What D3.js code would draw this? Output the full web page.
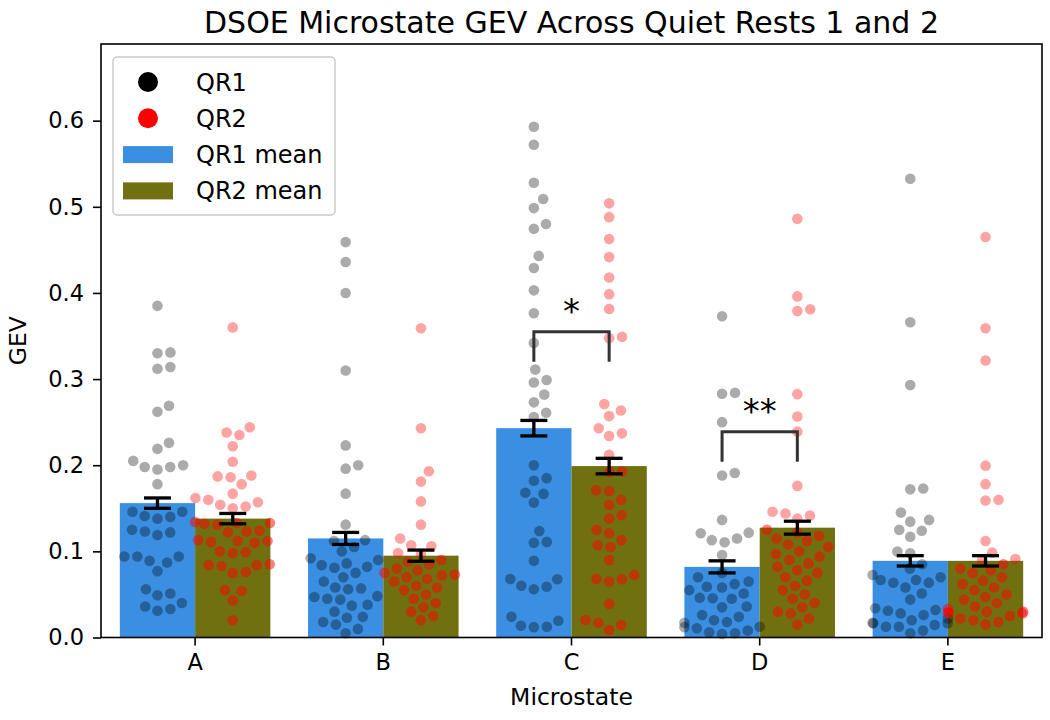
<!DOCTYPE html>
<html><head><meta charset="utf-8">
<script src="https://cdn.jsdelivr.net/npm/d3@7"></script>
<style>body{margin:0;background:#fff} svg{display:block;font-family:"DejaVu Sans",sans-serif}</style>
</head><body><svg id="chart" width="1050" height="720"></svg>
<script>
const categories = ["A","B","C","D","E"];
const groups = ["QR1","QR2"];
const yTicks = [0,0.1,0.2,0.3,0.4,0.5,0.6];
const qr1Means = [0.156, 0.115, 0.243, 0.082, 0.089];
const qr2Means = [0.138, 0.095, 0.199, 0.1275, 0.089];
const qr1Err = [0.006, 0.007, 0.009, 0.007, 0.006];
const qr2Err = [0.006, 0.0065, 0.009, 0.0075, 0.006];
const sigCats = ["C","D"];
const sigTops = [0.355, 0.239];
const sigLegs = [0.035, 0.035];
const sigLabels = ["*","**"];

const qr1_A = [0.385,0.331,0.330,0.314,0.312,0.269,0.262,0.226,0.219,0.205,0.198,0.195,0.198,0.200,0.178,0.146,0.140,0.138,0.141,0.146,0.122,0.119,0.123,0.125,0.094,0.087,0.077,0.089,0.094,0.094,0.051,0.049,0.056,0.040,0.033,0.031,0.036];
const qr2_A = [0.360,0.244,0.238,0.235,0.222,0.204,0.187,0.186,0.188,0.178,0.167,0.162,0.160,0.157,0.154,0.152,0.150,0.134,0.133,0.132,0.131,0.133,0.124,0.123,0.122,0.113,0.112,0.111,0.112,0.110,0.100,0.099,0.098,0.085,0.084,0.083,0.084,0.076,0.075,0.055,0.054,0.043,0.020];
const qr1_B = [0.459,0.436,0.400,0.310,0.223,0.200,0.196,0.167,0.131,0.113,0.112,0.105,0.100,0.090,0.086,0.092,0.082,0.084,0.081,0.075,0.070,0.065,0.058,0.047,0.057,0.045,0.056,0.048,0.044,0.038,0.037,0.030,0.018,0.015,0.024,0.023,0.010,0.005];
const qr2_B = [0.359,0.243,0.193,0.181,0.158,0.131,0.115,0.107,0.106,0.098,0.097,0.090,0.088,0.085,0.080,0.078,0.075,0.073,0.072,0.070,0.068,0.065,0.060,0.058,0.055,0.050,0.045,0.040,0.035,0.030,0.025,0.020];
const qr1_C = [0.593,0.572,0.528,0.509,0.4985,0.480,0.4745,0.443,0.429,0.403,0.3765,0.342,0.311,0.299,0.296,0.282,0.273,0.261,0.256,0.200,0.185,0.182,0.1667,0.168,0.1566,0.1237,0.111,0.110,0.089,0.0676,0.059,0.056,0.060,0.068,0.024,0.0125,0.012,0.0137,0.0195];
const qr2_C = [0.504,0.488,0.4625,0.4416,0.418,0.3986,0.3815,0.3475,0.349,0.2635,0.257,0.271,0.237,0.234,0.243,0.212,0.1926,0.1920,0.171,0.170,0.160,0.154,0.142,0.138,0.125,0.121,0.107,0.105,0.113,0.090,0.0726,0.0676,0.065,0.068,0.039,0.0203,0.017,0.0145,0.0087];
const qr1_D = [0.373,0.284,0.283,0.250,0.191,0.188,0.1365,0.121,0.113,0.1106,0.115,0.1217,0.0958,0.075,0.070,0.065,0.062,0.059,0.058,0.055,0.051,0.046,0.045,0.0455,0.036,0.035,0.026,0.024,0.020,0.018,0.017,0.0125,0.012,0.0107,0.008,0.006,0.005,0.004];
const qr2_D = [0.486,0.396,0.381,0.379,0.2825,0.2565,0.239,0.176,0.146,0.1415,0.138,0.144,0.125,0.122,0.118,0.115,0.112,0.108,0.105,0.100,0.097,0.094,0.090,0.086,0.082,0.078,0.075,0.070,0.066,0.060,0.055,0.050,0.045,0.040,0.035,0.030,0.028,0.022,0.015];
const qr1_E = [0.5325,0.366,0.293,0.173,0.172,0.145,0.1365,0.1345,0.124,0.125,0.117,0.0997,0.0978,0.085,0.080,0.0726,0.0668,0.0637,0.0636,0.0667,0.070,0.058,0.051,0.044,0.034,0.032,0.026,0.022,0.028,0.031,0.020,0.0165,0.0145,0.0125,0.0124,0.0164,0.017,0.008,0.005];
const qr2_E = [0.465,0.359,0.3215,0.1995,0.178,0.160,0.159,0.112,0.0985,0.091,0.089,0.085,0.080,0.078,0.075,0.070,0.066,0.062,0.058,0.055,0.050,0.047,0.044,0.040,0.036,0.033,0.030,0.030,0.029,0.029,0.028,0.025,0.022,0.020,0.018,0.015];

const qr1Points = [qr1_A, qr1_B, qr1_C, qr1_D, qr1_E];
const qr2Points = [qr2_A, qr2_B, qr2_C, qr2_D, qr2_E];

const barColors = {QR1: "#3a8fe3", QR2: "#707010"};
const dotColors = {QR1: "#000000", QR2: "#ff0000"};

(function () {
const svg = d3.select("#chart");
const mLeft = 101, mRight = 1042, mTop = 44, mBottom = 637.5;

const x = d3.scaleBand().domain(categories).range([mLeft, mRight]).paddingInner(0).paddingOuter(0);
const bw = x.bandwidth();
const xSub = d3.scaleBand().domain(groups).range([0.1 * bw, 0.9 * bw]);
const y = d3.scaleLinear().domain([0, 0.689]).range([mBottom, mTop]);

const barData = [];
categories.forEach((c, i) => {
  barData.push({cat: c, g: "QR1", mean: qr1Means[i], err: qr1Err[i], pts: qr1Points[i]});
  barData.push({cat: c, g: "QR2", mean: qr2Means[i], err: qr2Err[i], pts: qr2Points[i]});
});

svg.append("g").selectAll("rect").data(barData).join("rect")
  .attr("x", d => x(d.cat) + xSub(d.g))
  .attr("y", d => y(d.mean))
  .attr("width", xSub.bandwidth())
  .attr("height", d => y(0) - y(d.mean))
  .attr("fill", d => barColors[d.g]);

const R = 5.3, D = 13;
function swarm(vals, cx, half) {
  const pts = vals.map(v => ({v, y: y(v)})).sort((a, b) => b.y - a.y);
  const placed = [];
  pts.forEach(p => {
    const cands = [0];
    placed.forEach(q => {
      const dy = p.y - q.y;
      if (Math.abs(dy) < D) {
        const dx = Math.sqrt(D * D - dy * dy);
        cands.push(q.dx + dx, q.dx - dx);
      }
    });
    cands.sort((a, b) => Math.abs(a) - Math.abs(b));
    let chosen = cands[0];
    for (const c of cands) {
      let ok = true;
      for (const q of placed) {
        const ddx = c - q.dx, ddy = p.y - q.y;
        if (ddx * ddx + ddy * ddy < D * D - 0.01) { ok = false; break; }
      }
      if (ok) { chosen = c; break; }
    }
    p.dx = chosen;
    placed.push(p);
  });
  placed.forEach(p => { p.dx = Math.max(-half, Math.min(half, p.dx)); p.x = cx + p.dx; });
  return placed;
}

const dotsG = svg.append("g");
barData.forEach(d => {
  const cx = x(d.cat) + xSub(d.g) + xSub.bandwidth() / 2;
  const pts = swarm(d.pts, cx, xSub.bandwidth() / 2);
  dotsG.append("g").selectAll("circle").data(pts).join("circle")
    .attr("cx", p => p.x).attr("cy", p => p.y).attr("r", R)
    .attr("fill", dotColors[d.g])
    .attr("fill-opacity", p => d.g === "QR1" ? 0.33 : (p.v < d.mean ? 0.5 : 0.36));
});

const eg = svg.append("g").attr("stroke", "#000").attr("stroke-width", 3.3);
barData.forEach(d => {
  const cx = x(d.cat) + xSub(d.g) + xSub.bandwidth() / 2;
  eg.append("line").attr("x1", cx).attr("x2", cx).attr("y1", y(d.mean - d.err)).attr("y2", y(d.mean + d.err));
  eg.append("line").attr("x1", cx - 13.5).attr("x2", cx + 13.5).attr("y1", y(d.mean - d.err)).attr("y2", y(d.mean - d.err));
  eg.append("line").attr("x1", cx - 13.5).attr("x2", cx + 13.5).attr("y1", y(d.mean + d.err)).attr("y2", y(d.mean + d.err));
});

sigCats.forEach((c, i) => {
  const x1 = x(c) + xSub("QR1") + xSub.bandwidth() / 2;
  const x2 = x(c) + xSub("QR2") + xSub.bandwidth() / 2;
  const yt = y(sigTops[i]), yb = y(sigTops[i] - sigLegs[i]);
  svg.append("path")
    .attr("d", `M${x1},${yb}L${x1},${yt}L${x2},${yt}L${x2},${yb}`)
    .attr("fill", "none").attr("stroke", "#333").attr("stroke-width", 3);
  svg.append("text").attr("x", (x1 + x2) / 2).attr("y", yt - 9)
    .attr("text-anchor", "middle").attr("font-size", 34).attr("fill", "#000")
    .text(sigLabels[i]);
});

const yAxis = svg.append("g").attr("transform", `translate(${mLeft},0)`)
  .call(d3.axisLeft(y).tickValues(yTicks).tickFormat(d3.format(".1f")).tickSize(8).tickPadding(9));
const xAxis = svg.append("g").attr("transform", `translate(0,${mBottom})`)
  .call(d3.axisBottom(x).tickSize(8).tickPadding(9));
[yAxis, xAxis].forEach(a => {
  a.select(".domain").remove();
  a.selectAll("line").attr("stroke", "#000").attr("stroke-width", 1.6);
  a.selectAll("text").attr("font-size", 22.5).attr("fill", "#000").attr("font-family", "DejaVu Sans");
});
svg.append("rect").attr("x", mLeft).attr("y", mTop).attr("width", mRight - mLeft).attr("height", mBottom - mTop)
  .attr("fill", "none").attr("stroke", "#000").attr("stroke-width", 1.6);

svg.append("text").attr("x", (mLeft + mRight) / 2).attr("y", 33).attr("text-anchor", "middle")
  .attr("font-size", 30).attr("fill", "#000").text("DSOE Microstate GEV Across Quiet Rests 1 and 2");
svg.append("text").attr("x", (mLeft + mRight) / 2).attr("y", 705).attr("text-anchor", "middle")
  .attr("font-size", 23.5).attr("fill", "#000").text("Microstate");
svg.append("text").attr("transform", `translate(26,${(mTop + mBottom) / 2}) rotate(-90)`).attr("text-anchor", "middle")
  .attr("font-size", 23.5).attr("fill", "#000").text("GEV");

const lg = svg.append("g");
lg.append("rect").attr("x", 113).attr("y", 57).attr("width", 222).attr("height", 158).attr("rx", 4)
  .attr("fill", "#fff").attr("fill-opacity", 0.85).attr("stroke", "#cccccc").attr("stroke-width", 1.5);
const legItems = [
  {label: "QR1", type: "dot", color: dotColors.QR1},
  {label: "QR2", type: "dot", color: dotColors.QR2},
  {label: "QR1 mean", type: "bar", color: barColors.QR1},
  {label: "QR2 mean", type: "bar", color: barColors.QR2}
];
legItems.forEach((it, i) => {
  const cy = 82 + i * 36.3;
  if (it.type === "dot") lg.append("circle").attr("cx", 148).attr("cy", cy).attr("r", 10).attr("fill", it.color);
  else lg.append("rect").attr("x", 123).attr("y", cy - 8.5).attr("width", 50).attr("height", 17).attr("fill", it.color);
  lg.append("text").attr("x", 196).attr("y", cy + 8.5).attr("font-size", 24).attr("fill", "#000").text(it.label);
});
})();
</script></body></html>
